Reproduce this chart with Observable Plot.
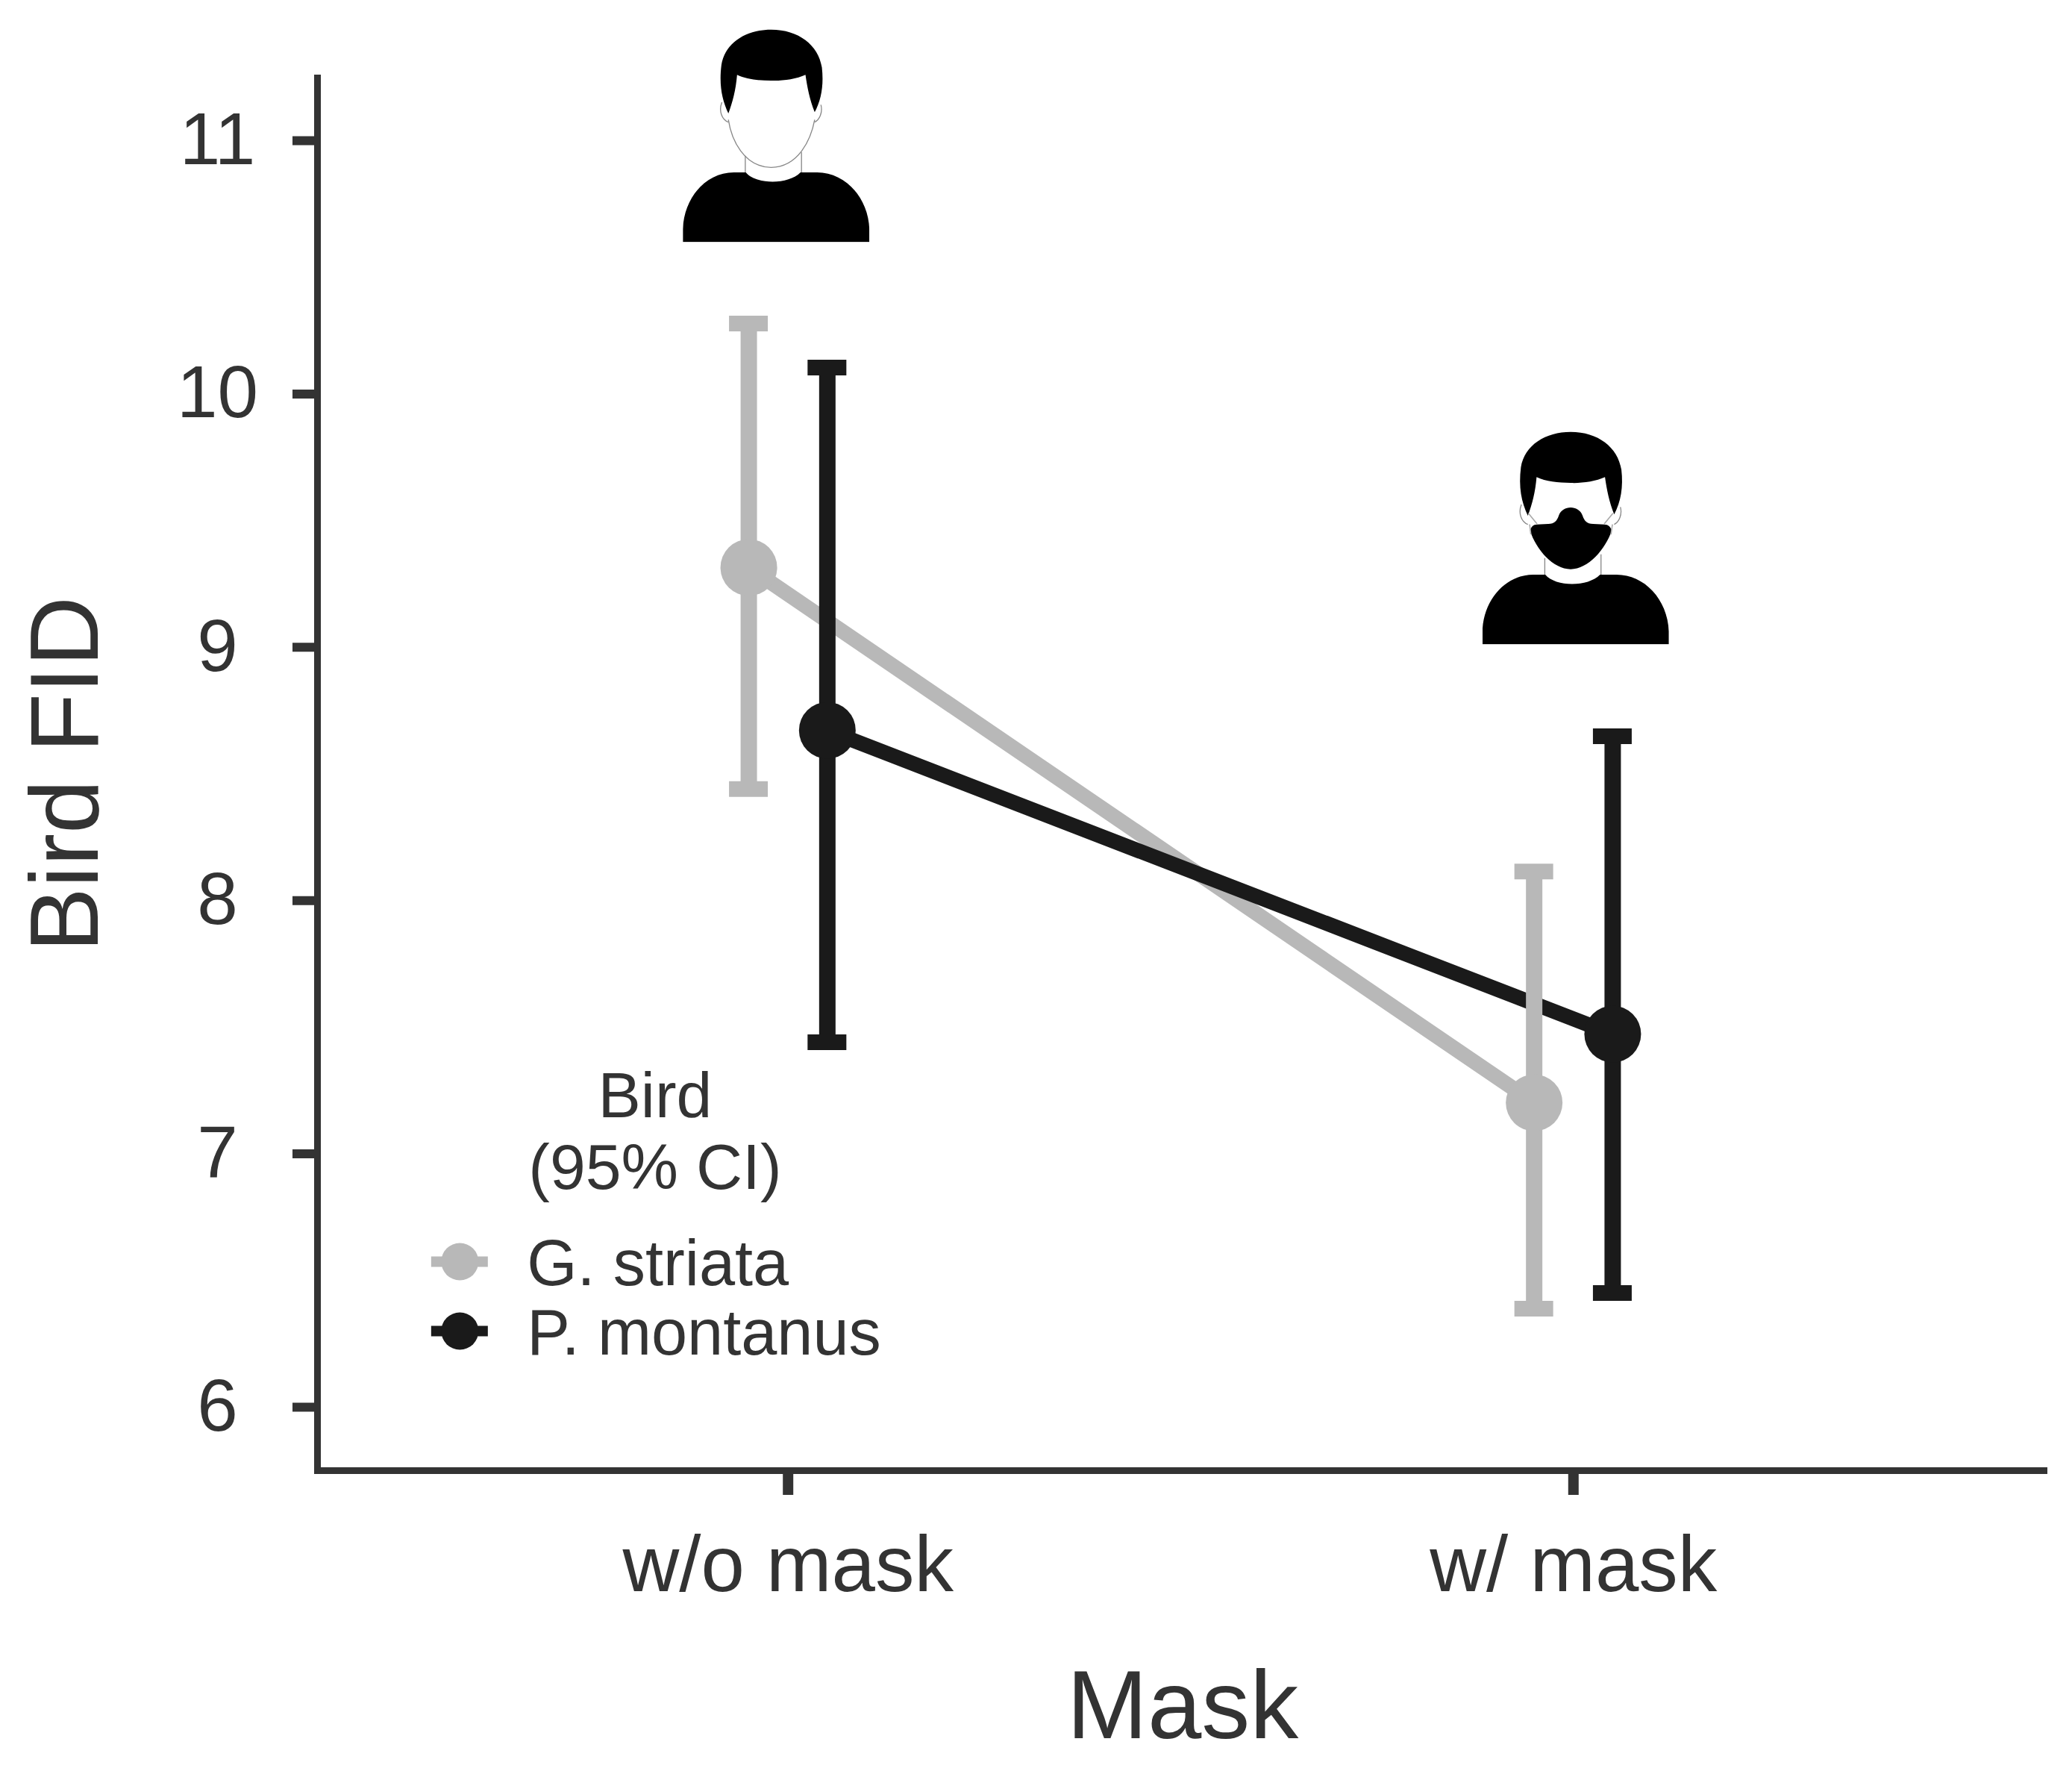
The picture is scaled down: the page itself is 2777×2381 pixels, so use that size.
<!DOCTYPE html>
<html>
<head>
<meta charset="utf-8">
<script src="https://cdn.jsdelivr.net/npm/d3@7"></script>
<script src="https://cdn.jsdelivr.net/npm/@observablehq/plot@0.6"></script>
<style>
html,body{margin:0;padding:0;background:#fff}
svg{display:block}
</style>
</head>
<body>
<div id="chart"></div>
<script>
// Data
const maskLabels = ["w/o mask", "w/ mask"];
const maskPositions = [1, 2];
const species = ["G. striata", "P. montanus"];
const dodge = [-0.05, 0.05];
const colours = ["#b8b8b8", "#1a1a1a"];
const striataMean = [9.315, 7.202];
const striataLow = [8.44, 6.389];
const striataHigh = [10.278, 8.115];
const montanusMean = [8.672, 7.473];
const montanusLow = [7.441, 6.451];
const montanusHigh = [10.104, 8.649];
const yTicks = [6, 7, 8, 9, 10, 11];

const seriesRows = (i, mean, low, high) => maskPositions.map((m, k) => ({
  x: m + dodge[i], mean: mean[k], low: low[k], high: high[k]
}));
const striata = seriesRows(0, striataMean, striataLow, striataHigh);
const montanus = seriesRows(1, montanusMean, montanusLow, montanusHigh);

const capHalf = 0.0247;
const lineMark = (rows, colour) => Plot.line(rows, {x: "x", y: "mean", stroke: colour, strokeWidth: 20});
const barMarks = (rows, colour) => [
  Plot.ruleX(rows, {x: "x", y1: "low", y2: "high", stroke: colour, strokeWidth: 22}),
  Plot.ruleY(rows, {y: "high", x1: d => d.x - capHalf, x2: d => d.x + capHalf, stroke: colour, strokeWidth: 21}),
  Plot.ruleY(rows, {y: "low", x1: d => d.x - capHalf, x2: d => d.x + capHalf, stroke: colour, strokeWidth: 21})
];
const dotMark = (rows, colour) => Plot.dot(rows, {x: "x", y: "mean", r: 38, fill: colour});

// Person pictograms, drawn in their own local frame
const personBase = `
<path d="M105 912L105 860C110 730 200 632 310 632L358 632C400 682 530 682 578 632L645 632C755 632 850 730 855 860L855 912Z" fill="#000"/>
<path d="M288 395C262 340 250 280 260 200C275 110 360 58 460 58C570 58 650 120 664 210C672 280 662 340 635 390C615 340 605 290 598 240C560 258 500 265 460 263C410 263 360 258 323 240C318 300 305 350 288 395Z" fill="#000"/>
<path d="M356 565V632M582 550V632M262 350C248 385 262 420 288 430M660 360C668 390 655 420 635 430" fill="none" stroke="#888" stroke-width="4"/>`;
const faceLine = `<path d="M288 420C300 500 350 610 460 612C570 610 620 500 635 420" fill="none" stroke="#888" stroke-width="4"/>`;
const maskShape = `<path d="M297 455C300 440 310 430 325 430L370 428C395 428 405 415 412 395C420 372 440 362 460 362C480 362 500 372 508 395C515 415 525 428 550 428L595 430C610 430 622 440 625 455C600 530 530 610 460 610C390 610 320 530 297 455Z" fill="#000"/>
<path d="M290 385L325 428M630 385L595 428M295 430L300 470M628 430L622 470" fill="none" stroke="#aaa" stroke-width="5"/>`;
const iconUri = inner => "data:image/svg+xml;utf8," + encodeURIComponent(
  `<svg xmlns="http://www.w3.org/2000/svg" viewBox="105 55 750 857">${inner}</svg>`);
const icons = [
  {x: 0.9848, y: 11.0206, src: iconUri(personBase + faceLine)},
  {x: 2.0028, y: 9.4325, src: iconUri(personBase + maskShape)}
];

// Legend layout in chart units
const legendKeyX = 0.5821, legendKeyHalf = 0.0361, legendTextX = 0.6676, legendTitleX = 0.8306;
const legendRows = [{label: species[0], y: 6.5745, colour: colours[0]}, {label: species[1], y: 6.3005, colour: colours[1]}];
const legendTitle = [{label: "Bird", y: 7.2257}, {label: "(95% CI)", y: 6.943}];

const font = "Liberation Sans";
const plot = Plot.plot({
  width: 2777, height: 2381,
  marginLeft: 425, marginRight: 38, marginTop: 104, marginBottom: 411,
  style: {background: "#fff", color: "#333", fontFamily: font},
  x: {type: "linear", domain: [0.4008, 2.5992], axis: null},
  y: {domain: [5.7496, 11.2475], axis: null},
  marks: [
    Plot.axisY({ticks: yTicks, tickSize: 33, tickPadding: 101, textAnchor: "middle", fontSize: 98, label: null, strokeWidth: 12, tickFormat: d => String(d)}),
    Plot.axisX({ticks: maskPositions, tickSize: 33, tickPadding: 54, fontSize: 105, label: null, strokeWidth: 14, tickFormat: d => maskLabels[d - 1]}),
    Plot.frame({anchor: "left", stroke: "#333", strokeWidth: 9}),
    Plot.frame({anchor: "bottom", stroke: "#333", strokeWidth: 9}),
    Plot.text(["Bird FID"], {frameAnchor: "left", textAnchor: "middle", dx: -336, rotate: -90, fontSize: 130, fill: "#333"}),
    Plot.text(["Mask"], {frameAnchor: "bottom", dy: 358, dx: 2.5, fontSize: 130, fill: "#333"}),
    lineMark(striata, colours[0]),
    lineMark(montanus, colours[1]),
    ...barMarks(striata, colours[0]),
    ...barMarks(montanus, colours[1]),
    dotMark(striata, colours[0]),
    dotMark(montanus, colours[1]),
    Plot.image(icons, {x: "x", y: "y", src: "src", width: 250, height: 286}),
    Plot.text(legendTitle, {x: legendTitleX, y: "y", text: "label", fontSize: 86, fill: "#333"}),
    Plot.ruleY(legendRows, {y: "y", x1: legendKeyX - legendKeyHalf, x2: legendKeyX + legendKeyHalf, stroke: "colour", strokeWidth: 14}),
    Plot.dot(legendRows, {x: legendKeyX, y: "y", r: 25, fill: "colour"}),
    Plot.text(legendRows, {x: legendTextX, y: "y", dy: 4, text: "label", fontSize: 86.5, fill: "#333", textAnchor: "start"})
  ]
});
document.getElementById("chart").append(plot);
</script>
</body>
</html>
